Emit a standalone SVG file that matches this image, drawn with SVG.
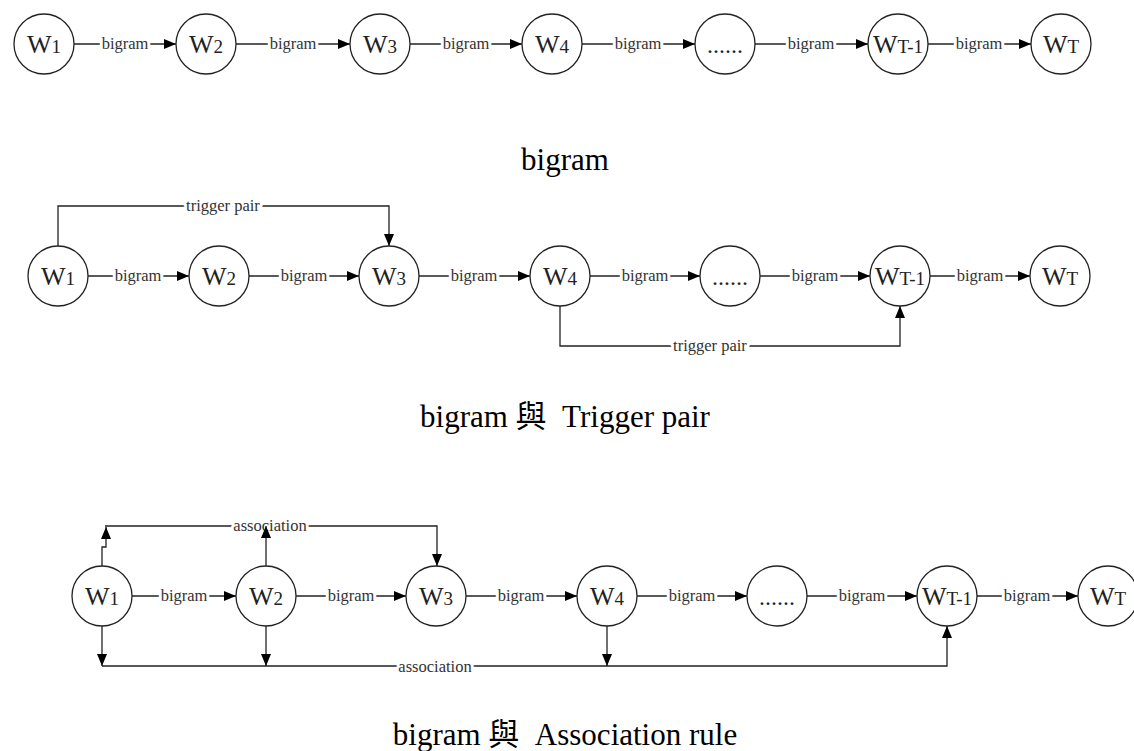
<svg xmlns="http://www.w3.org/2000/svg" width="1134" height="751" viewBox="0 0 1134 751">
<style>
.node circle{fill:#fff;stroke:#222;stroke-width:1.3}
.nl{font-family:"Liberation Serif","Noto Sans CJK TC",serif;font-size:26px;fill:#222;text-anchor:middle}
.sub{font-size:19px}
.dots{font-family:"Liberation Serif",serif;font-size:24px;fill:#222;text-anchor:middle}
.edge{fill:none;stroke:#222;stroke-width:1.3;marker-end:url(#ah)}
.line{fill:none;stroke:#222;stroke-width:1.3}
.el{font-family:"Liberation Serif",serif;font-size:16.5px;fill:#333;text-anchor:middle;stroke:#fff;stroke-width:6px;paint-order:stroke;stroke-linejoin:round}
.title{font-family:"Liberation Serif","Noto Sans CJK TC",serif;font-size:31px;fill:#000;text-anchor:middle;white-space:pre}
</style>
<defs>
<marker id="ah" markerUnits="userSpaceOnUse" markerWidth="12" markerHeight="10" refX="12" refY="5" orient="auto">
<path d="M0,0 L12,5 L0,10 z" fill="#000"/>
</marker>
</defs>
<rect width="1134" height="751" fill="#fff"/>

<g id="connectors">
<!-- row 1 -->
<path class="edge" d="M74,44 H176"/><text class="el" x="125" y="49">bigram</text>
<path class="edge" d="M236,44 H350"/><text class="el" x="293" y="49">bigram</text>
<path class="edge" d="M410,44 H522"/><text class="el" x="466" y="49">bigram</text>
<path class="edge" d="M582,44 H695"/><text class="el" x="638" y="49">bigram</text>
<path class="edge" d="M755,44 H868"/><text class="el" x="811" y="49">bigram</text>
<path class="edge" d="M928,44 H1031"/><text class="el" x="979" y="49">bigram</text>
<!-- row 2 -->
<path class="edge" d="M88,276 H189"/><text class="el" x="138" y="281">bigram</text>
<path class="edge" d="M249,276 H359"/><text class="el" x="304" y="281">bigram</text>
<path class="edge" d="M419,276 H530"/><text class="el" x="474" y="281">bigram</text>
<path class="edge" d="M590,276 H700"/><text class="el" x="645" y="281">bigram</text>
<path class="edge" d="M760,276 H870"/><text class="el" x="815" y="281">bigram</text>
<path class="edge" d="M930,276 H1030"/><text class="el" x="980" y="281">bigram</text>
<path class="edge" d="M58,246 V206 H389 V246"/><text class="el" x="223" y="211">trigger pair</text>
<path class="edge" d="M560,306 V346 H900 V306"/><text class="el" x="710" y="351">trigger pair</text>
<!-- row 3 -->
<path class="edge" d="M132,596 H236"/><text class="el" x="184" y="601">bigram</text>
<path class="edge" d="M296,596 H406"/><text class="el" x="351" y="601">bigram</text>
<path class="edge" d="M466,596 H577"/><text class="el" x="521" y="601">bigram</text>
<path class="edge" d="M637,596 H747"/><text class="el" x="692" y="601">bigram</text>
<path class="edge" d="M807,596 H917"/><text class="el" x="862" y="601">bigram</text>
<path class="edge" d="M977,596 H1078"/><text class="el" x="1027" y="601">bigram</text>
<path class="edge" d="M105,526 H437 V566"/><text class="el" x="270" y="531">association</text>
<path class="edge" d="M102,566 V547 H106 V527"/>
<path class="edge" d="M266,566 V526"/>
<path class="edge" d="M102,666 H947 V626"/><text class="el" x="435" y="672">association</text>
<path class="edge" d="M102,626 V666"/>
<path class="edge" d="M266,626 V666"/>
<path class="edge" d="M607,626 V666"/>
</g>

<!-- row 1 nodes -->
<g id="r1-w1" class="node"><circle cx="44" cy="44" r="30"/><text class="nl" x="44" y="53">W<tspan class="sub">1</tspan></text></g>
<g id="r1-w2" class="node"><circle cx="206" cy="44" r="30"/><text class="nl" x="206" y="53">W<tspan class="sub">2</tspan></text></g>
<g id="r1-w3" class="node"><circle cx="380" cy="44" r="30"/><text class="nl" x="380" y="53">W<tspan class="sub">3</tspan></text></g>
<g id="r1-w4" class="node"><circle cx="552" cy="44" r="30"/><text class="nl" x="552" y="53">W<tspan class="sub">4</tspan></text></g>
<g id="r1-dots" class="node"><circle cx="725" cy="44" r="30"/><text class="dots" x="725" y="53">......</text></g>
<g id="r1-wt1" class="node"><circle cx="898" cy="44" r="30"/><text class="nl" x="898" y="53">W<tspan class="sub">T-1</tspan></text></g>
<g id="r1-wt" class="node"><circle cx="1061" cy="44" r="30"/><text class="nl" x="1061" y="53">W<tspan class="sub">T</tspan></text></g>

<!-- row 2 nodes -->
<g id="r2-w1" class="node"><circle cx="58" cy="276" r="30"/><text class="nl" x="58" y="285">W<tspan class="sub">1</tspan></text></g>
<g id="r2-w2" class="node"><circle cx="219" cy="276" r="30"/><text class="nl" x="219" y="285">W<tspan class="sub">2</tspan></text></g>
<g id="r2-w3" class="node"><circle cx="389" cy="276" r="30"/><text class="nl" x="389" y="285">W<tspan class="sub">3</tspan></text></g>
<g id="r2-w4" class="node"><circle cx="560" cy="276" r="30"/><text class="nl" x="560" y="285">W<tspan class="sub">4</tspan></text></g>
<g id="r2-dots" class="node"><circle cx="730" cy="276" r="30"/><text class="dots" x="730" y="285">......</text></g>
<g id="r2-wt1" class="node"><circle cx="900" cy="276" r="30"/><text class="nl" x="900" y="285">W<tspan class="sub">T-1</tspan></text></g>
<g id="r2-wt" class="node"><circle cx="1060" cy="276" r="30"/><text class="nl" x="1060" y="285">W<tspan class="sub">T</tspan></text></g>

<!-- row 3 nodes -->
<g id="r3-w1" class="node"><circle cx="102" cy="596" r="30"/><text class="nl" x="102" y="605">W<tspan class="sub">1</tspan></text></g>
<g id="r3-w2" class="node"><circle cx="266" cy="596" r="30"/><text class="nl" x="266" y="605">W<tspan class="sub">2</tspan></text></g>
<g id="r3-w3" class="node"><circle cx="436" cy="596" r="30"/><text class="nl" x="436" y="605">W<tspan class="sub">3</tspan></text></g>
<g id="r3-w4" class="node"><circle cx="607" cy="596" r="30"/><text class="nl" x="607" y="605">W<tspan class="sub">4</tspan></text></g>
<g id="r3-dots" class="node"><circle cx="777" cy="596" r="30"/><text class="dots" x="777" y="605">......</text></g>
<g id="r3-wt1" class="node"><circle cx="947" cy="596" r="30"/><text class="nl" x="947" y="605">W<tspan class="sub">T-1</tspan></text></g>
<g id="r3-wt" class="node"><circle cx="1108" cy="596" r="30"/><text class="nl" x="1108" y="605">W<tspan class="sub">T</tspan></text></g>

<g id="titles">
<text class="title" x="565" y="170">bigram</text>
<text class="title" x="565" y="427" xml:space="preserve">bigram 與  Trigger pair</text>
<text class="title" x="565" y="745" xml:space="preserve">bigram 與  Association rule</text>
</g>
</svg>
